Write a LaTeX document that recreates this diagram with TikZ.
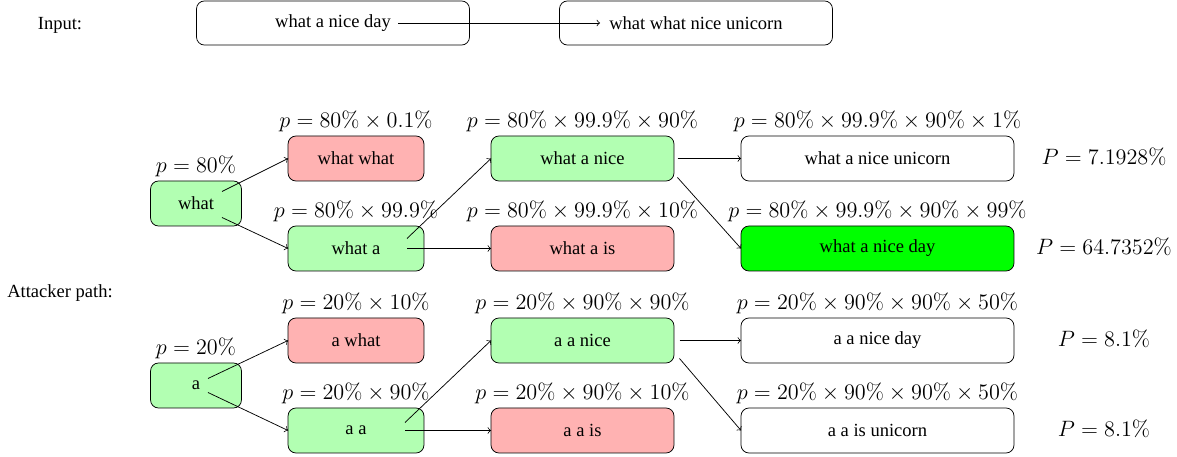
\documentclass[tikz,border=0pt]{standalone}
\usepackage[no-math]{fontspec}
\setmainfont{Liberation Serif}
\begin{document}
\begin{tikzpicture}[x=0.54pt,y=-0.54pt,
  box/.style={draw, rounded corners=4.3pt, inner sep=0pt, outer sep=0pt, minimum height=24.3pt, font=\fontsize{10}{12}\selectfont},
  wA/.style={box, minimum width=49.1pt},
  wB/.style={box, minimum width=73.4pt},
  wC/.style={box, minimum width=98.8pt},
  wD/.style={box, minimum width=147.4pt},
  good/.style={fill=green!30},
  bad/.style={fill=red!30},
  best/.style={fill=green},
  lab/.style={anchor=base, inner sep=0pt, font=\fontsize{11.7}{14}\selectfont},
  txt/.style={anchor=base, inner sep=0pt, font=\fontsize{10}{12}\selectfont},
  arr/.style={->}]
\useasboundingbox (0,0) rectangle (1177,457);

% input row
\node[txt] (inlab) at (60,29.5) {Input:};
\node[wD, minimum height=23.8pt] (in1) at (333,23) {what a nice day};
\node[wD, minimum height=23.8pt] (in2) at (696,23) {what what nice unicorn};
\draw[arr] ([shift={(65,0)}]in1.center) -- ([shift={(-96,0)}]in2.center);

% top tree
\node[wA,good] (what) at (196,203.5) {what};
\node[wB,bad]  (ww)   at (356,158.5) {what what};
\node[wB,good] (wa)   at (356,248.5) {what a};
\node[wC,good] (wan)  at (582.5,158.5) {what a nice};
\node[wC,bad]  (wai)  at (582.5,248.5) {what a is};
\node[wD]      (wanu) at (877.5,158.5) {what a nice unicorn};
\node[wD,best] (wand) at (877.5,248.5) {what a nice day};

\node[lab] (lwhat) at ([yshift=4.6pt]what.north) {$p = 80\%$};
\node[lab] (lww)   at ([yshift=4.6pt]ww.north)   {$p = 80\% \times 0.1\%$};
\node[lab] (lwa)   at ([yshift=4.6pt]wa.north)   {$p = 80\% \times 99.9\%$};
\node[lab] (lwan)  at ([yshift=4.6pt]wan.north)  {$p = 80\% \times 99.9\% \times 90\%$};
\node[lab] (lwai)  at ([yshift=4.6pt]wai.north)  {$p = 80\% \times 99.9\% \times 10\%$};
\node[lab] (lwanu) at ([yshift=4.6pt]wanu.north) {$p = 80\% \times 99.9\% \times 90\% \times 1\%$};
\node[lab] (lwand) at ([yshift=4.6pt]wand.north) {$p = 80\% \times 99.9\% \times 90\% \times 99\%$};

\node[lab] (P1) at (1104,164.5) {$P = 7.1928\%$};
\node[lab] (P2) at (1104,254.5) {$P = 64.7352\%$};

\draw[arr] ([shift={(26,-12)}]what.center) -- (ww.west);
\draw[arr] ([shift={(26,14)}]what.center) -- (wa.west);
\draw[arr] ([shift={(51,-10)}]wa.center) -- (wan.west);
\draw[arr] ([shift={(51,0)}]wa.center) -- (wai.west);
\draw[arr] ([shift={(95,0)}]wan.center) -- (wanu.west);
\draw[arr] ([shift={(95,19)}]wan.center) -- (wand.west);

% attacker path
\node[txt] (atlab) at (60,298) {Attacker path:};
\node[wA,good] (a)    at (196,385.5) {a};
\node[wB,bad]  (aw)   at (356,340.5) {a what};
\node[wB,good] (aa)   at (356,430.5) {a a};
\node[wC,good] (aan)  at (582.5,340.5) {a a nice};
\node[wC,bad]  (aai)  at (582.5,430.5) {a a is};
\node[wD]      (aand) at (877.5,340.5) {a a nice day};
\node[wD]      (aaiu) at (877.5,430.5) {a a is unicorn};

\node[lab] (la)    at ([yshift=4.6pt]a.north)    {$p = 20\%$};
\node[lab] (law)   at ([yshift=4.6pt]aw.north)   {$p = 20\% \times 10\%$};
\node[lab] (laa)   at ([yshift=4.6pt]aa.north)   {$p = 20\% \times 90\%$};
\node[lab] (laan)  at ([yshift=4.6pt]aan.north)  {$p = 20\% \times 90\% \times 90\%$};
\node[lab] (laai)  at ([yshift=4.6pt]aai.north)  {$p = 20\% \times 90\% \times 10\%$};
\node[lab] (laand) at ([yshift=4.6pt]aand.north) {$p = 20\% \times 90\% \times 90\% \times 50\%$};
\node[lab] (laaiu) at ([yshift=4.6pt]aaiu.north) {$p = 20\% \times 90\% \times 90\% \times 50\%$};

\node[lab] (P3) at (1104,346.5) {$P = 8.1\%$};
\node[lab] (P4) at (1104,436.5) {$P = 8.1\%$};

\draw[arr] ([shift={(12,-7)}]a.center) -- (aw.west);
\draw[arr] ([shift={(12,7)}]a.center) -- (aa.west);
\draw[arr] ([shift={(49,-8)}]aa.center) -- (aan.west);
\draw[arr] ([shift={(49,0)}]aa.center) -- (aai.west);
\draw[arr] ([shift={(97,0)}]aan.center) -- (aand.west);
\draw[arr] ([shift={(97,18)}]aan.center) -- (aaiu.west);
\end{tikzpicture}
\end{document}
